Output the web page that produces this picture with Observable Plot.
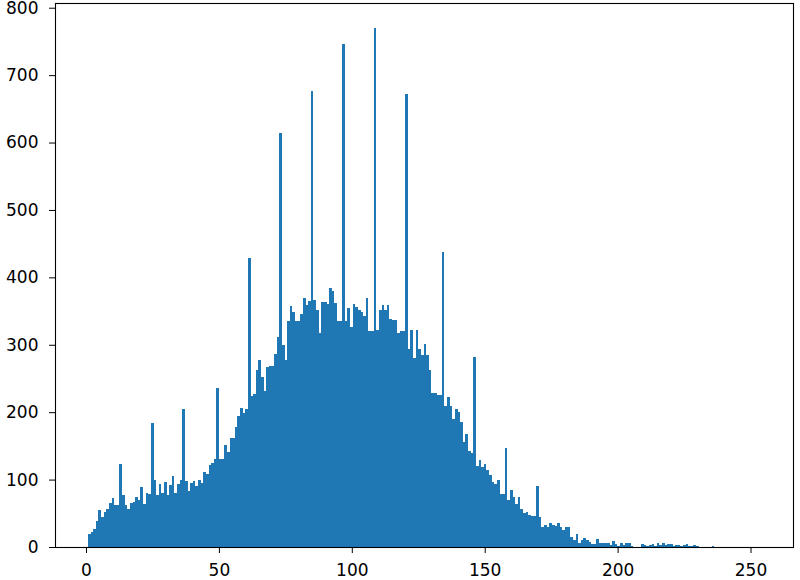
<!DOCTYPE html>
<html>
<head>
<meta charset="utf-8">
<script src="https://cdn.jsdelivr.net/npm/d3@7"></script>
<script src="https://cdn.jsdelivr.net/npm/@observablehq/plot@0.6"></script>
<style>
  html, body { margin: 0; padding: 0; background: #fff; }
  svg { display: block; }
</style>
</head>
<body>
<div id="chart"></div>
<script>
// Histogram of pixel intensities: 256 bins between the data min and max
const binStart = 0.752;
const binWidth = 0.9861;
const counts = [
  20, 22, 26, 39, 55, 44, 52, 57, 66, 73,
  62, 62, 123, 77, 62, 57, 66, 67, 74, 70,
  89, 64, 80, 79, 184, 100, 77, 93, 80, 96,
  77, 92, 105, 80, 94, 100, 204, 98, 83, 95,
  98, 90, 99, 95, 111, 109, 122, 124, 131, 236,
  131, 131, 151, 141, 162, 162, 178, 195, 206, 199,
  205, 428, 224, 227, 262, 278, 252, 232, 267, 269,
  269, 286, 312, 614, 300, 278, 335, 358, 348, 336,
  336, 346, 370, 359, 365, 676, 367, 352, 318, 364,
  364, 361, 384, 380, 362, 336, 336, 746, 336, 355,
  326, 361, 356, 352, 348, 343, 369, 320, 320, 770,
  322, 351, 359, 352, 359, 338, 337, 337, 318, 320,
  320, 672, 294, 322, 281, 322, 294, 285, 301, 285,
  262, 228, 229, 225, 225, 437, 209, 222, 209, 190,
  205, 200, 185, 156, 168, 143, 140, 282, 120, 129,
  119, 123, 114, 107, 97, 94, 100, 79, 79, 147,
  70, 85, 74, 64, 74, 56, 51, 52, 47, 46,
  46, 90, 44, 30, 32, 30, 35, 32, 31, 36,
  30, 25, 30, 30, 15, 10, 20, 6, 10, 13,
  10, 8, 5, 4, 12, 6, 6, 6, 6, 3,
  9, 4, 1, 6, 3, 6, 6, 1, 0, 0,
  0, 4, 3, 1, 3, 5, 1, 6, 3, 6,
  3, 5, 4, 1, 3, 3, 1, 3, 4, 1,
  1, 3, 1, 0, 0, 0, 0, 0, 2, 0,
  0, 0, 0, 0, 0, 0, 0, 0, 0, 0,
  0, 0, 0, 0, 0, 0
];
const xTicks = [0, 50, 100, 150, 200, 250];
const yTicks = [0, 100, 200, 300, 400, 500, 600, 700, 800];
const xDomain = [-11.66, 265.98];
const yDomain = [0, 807];

const bins = counts.map((c, i) => ({
  x1: binStart + i * binWidth,
  x2: binStart + (i + 1) * binWidth,
  count: c
}));

const chart = Plot.plot({
  width: 800,
  height: 580,
  marginLeft: 55,
  marginRight: 7,
  marginTop: 3,
  marginBottom: 33,
  style: { fontFamily: "DejaVu Sans", fontSize: "17px", color: "black", background: "white" },
  x: { domain: xDomain, ticks: xTicks },
  y: { domain: yDomain, ticks: yTicks },
  marks: [
    Plot.rect(bins, { x1: "x1", x2: "x2", y1: 0, y2: "count", fill: "#1f77b4", inset: 0, shapeRendering: "crispEdges" }),
    Plot.axisX({ ticks: xTicks, tickSize: 6, tickPadding: 10, label: null, fontSize: 17 }),
    Plot.axisY({ ticks: yTicks, tickSize: 6, tickPadding: 11, label: null, fontSize: 17 }),
    Plot.frame({ stroke: "black", strokeWidth: 1.1 })
  ]
});
document.getElementById("chart").appendChild(chart);
</script>
</body>
</html>
